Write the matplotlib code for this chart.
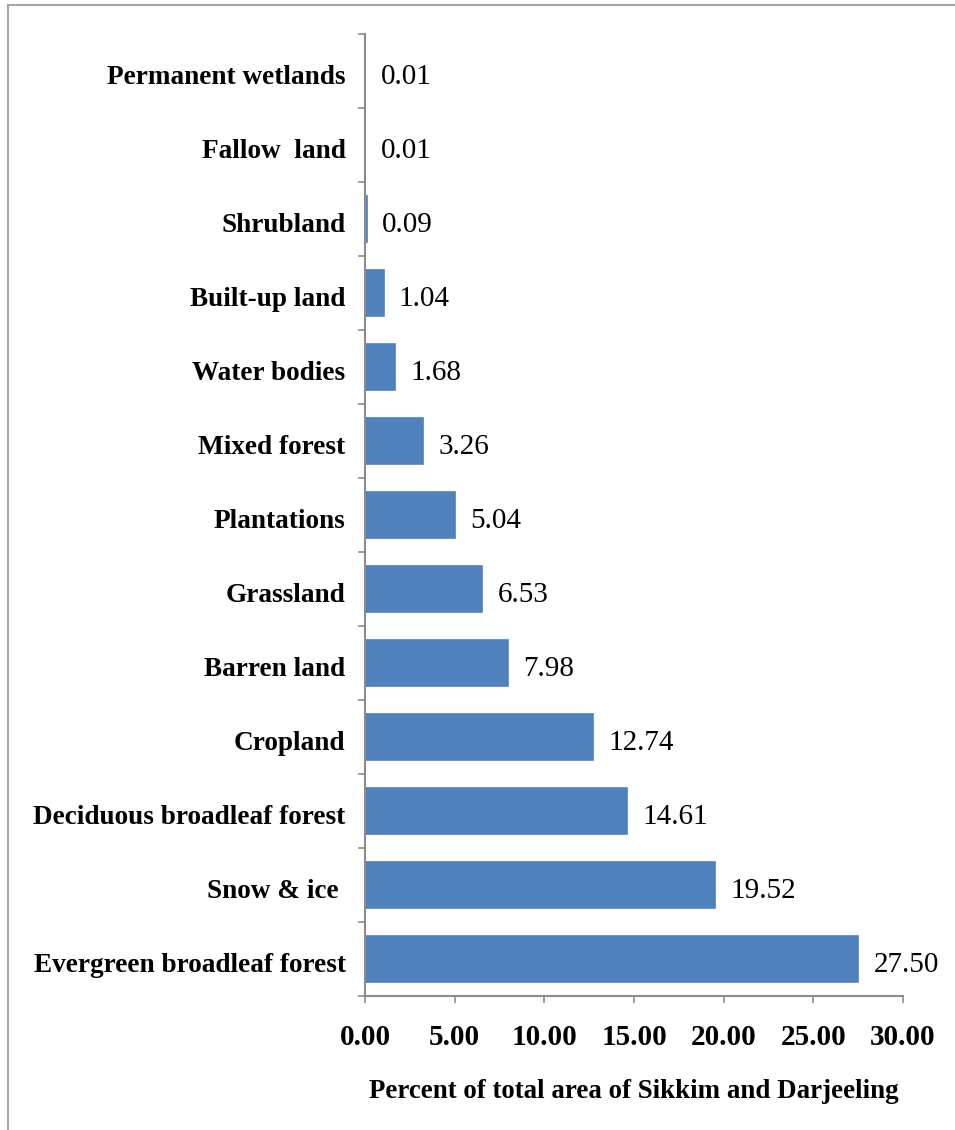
"""Land cover shares of Sikkim and Darjeeling as a horizontal bar chart."""
import matplotlib.pyplot as plt
import matplotlib.transforms as mtransforms
import numpy as np
from matplotlib.patches import Rectangle
from matplotlib.ticker import FixedLocator, MultipleLocator

# bottom -> top, as drawn
classes = [
    "Evergreen broadleaf forest",
    "Snow & ice ",
    "Deciduous broadleaf forest",
    "Cropland",
    "Barren land",
    "Grassland",
    "Plantations",
    "Mixed forest",
    "Water bodies",
    "Built-up land",
    "Shrubland",
    "Fallow  land",
    "Permanent wetlands",
]
percent = [27.50, 19.52, 14.61, 12.74, 7.98, 6.53, 5.04, 3.26, 1.68, 1.04, 0.09, 0.01, 0.01]
x_ticks = [0, 5, 10, 15, 20, 25, 30]

BAR = "#4F81BD"
AXIS = "#8C8C8C"
plt.rcParams["font.family"] = ["Liberation Serif", "DejaVu Serif"]


def main():
    fig = plt.figure(figsize=(9.55, 11.3), dpi=100)
    ax = fig.add_axes([365 / 955, 134 / 1130, 538 / 955, 962 / 1130])

    y = np.arange(len(classes))
    ax.barh(y, percent, height=0.61, color=BAR, edgecolor=BAR, linewidth=1.2)

    for yi, v in zip(y, percent):
        ax.annotate(f"{v:.2f}", (v, yi), xytext=(11, -2), textcoords="offset points",
                    ha="left", va="center_baseline", fontsize=21)

    ax.set_xlim(0, 30)
    ax.set_ylim(-0.5, len(classes) - 0.5)
    ax.xaxis.set_major_locator(FixedLocator(x_ticks))
    ax.set_xticklabels([f"{t:.2f}" for t in x_ticks], fontsize=21, fontweight="bold")
    ax.set_yticks(y)
    ax.set_yticklabels(classes, fontsize=19.6, fontweight="bold")
    ax.yaxis.set_minor_locator(MultipleLocator(1, offset=0.5))
    ax.tick_params(axis="y", which="major", length=0, pad=14)
    ax.tick_params(axis="y", which="minor", length=5, width=1.2, color=AXIS, direction="out")
    ax.tick_params(axis="x", length=5, width=1.2, color=AXIS, direction="out", pad=15)

    # nudge category labels down a touch (after tick_params, which resets transforms)
    shift = mtransforms.ScaledTranslation(0, -2.5 / 72, fig.dpi_scale_trans)
    for tick in ax.yaxis.get_major_ticks():
        tick.label1.set_transform(tick.label1.get_transform() + shift)

    for side in ("top", "right"):
        ax.spines[side].set_visible(False)
    for side in ("left", "bottom"):
        ax.spines[side].set_color(AXIS)
        ax.spines[side].set_linewidth(1.5)

    ax.set_xlabel("Percent of total area of Sikkim and Darjeeling",
                  fontsize=19.4, fontweight="bold", labelpad=20)

    # outer frame, open to the right and bottom like the cropped original
    fig.patches.append(Rectangle((8 / 955, -0.1), 1.2, 1.1 - 5 / 1130,
                                 transform=fig.transFigure, fill=False,
                                 edgecolor="#A6A6A6", linewidth=1.5))

    fig.savefig("out.png", dpi=100)


if __name__ == "__main__":
    main()
